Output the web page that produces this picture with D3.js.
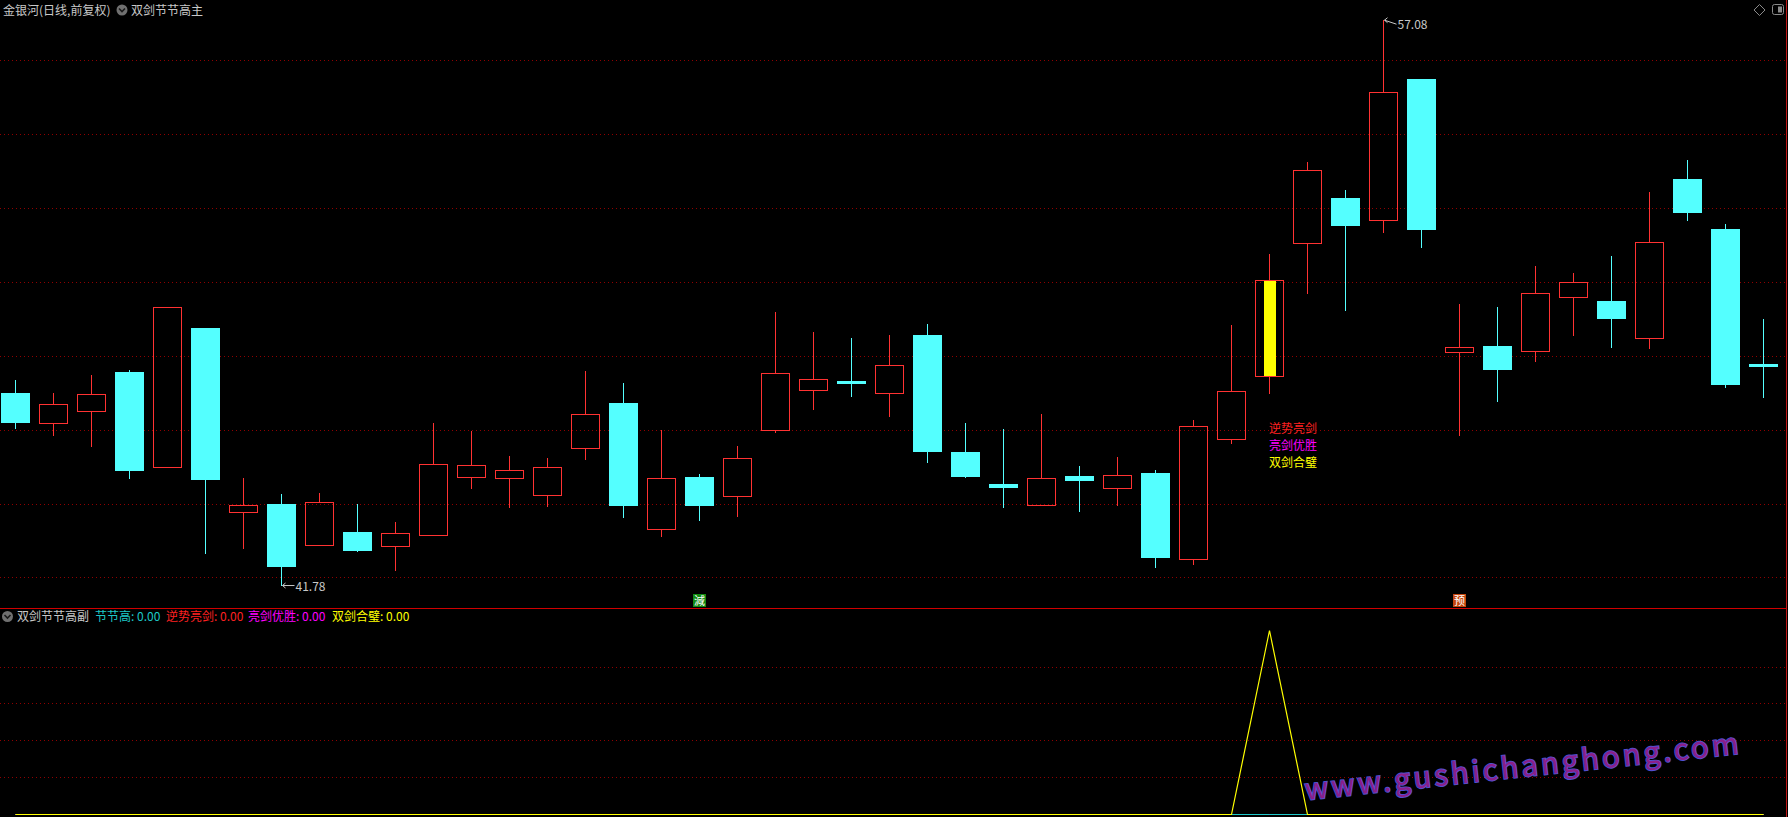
<!DOCTYPE html>
<html>
<head>
<meta charset="utf-8">
<script src="https://cdn.jsdelivr.net/npm/d3@7"></script>
<style>
  html, body { margin: 0; padding: 0; background: #000; }
  svg { display: block; }
  text { font-family: "Noto Sans CJK SC", "Noto Sans", sans-serif; }
</style>
</head>
<body>
<div id="container"></div>
<script>
const width = 1788;
const height = 817;

// daily bars, oldest first
const opens = [46.98, 46.19, 46.51, 47.55, 45.00, 48.76, 43.78, 43.98, 42.89, 43.22,
  42.86, 43.16, 44.73, 44.70, 44.24, 45.51, 46.71, 43.32, 44.71, 44.19,
  46.00, 47.08, 47.31, 47.00, 48.55, 45.39, 44.52, 43.97, 44.74, 44.42,
  44.82, 42.51, 45.75, 47.46, 51.05, 52.28, 51.66, 55.49, 48.11, 48.27,
  48.14, 49.60, 49.49, 48.48, 52.79, 51.44, 47.77];
const highs = [47.33, 46.98, 47.49, 47.60, 49.32, 48.76, 44.68, 44.25, 44.28, 43.98,
  43.49, 46.17, 45.95, 45.28, 45.22, 47.58, 47.25, 45.99, 44.79, 45.55,
  49.17, 48.63, 48.47, 48.55, 48.87, 46.19, 46.01, 46.41, 45.01, 45.27,
  44.90, 46.25, 48.82, 50.74, 53.25, 52.49, 57.08, 55.49, 49.41, 49.33,
  50.44, 50.23, 50.71, 52.44, 53.30, 51.57, 48.98];
const lows = [46.02, 45.83, 45.53, 44.66, 45.00, 42.64, 42.77, 41.78, 42.89, 42.69,
  42.18, 43.12, 44.39, 43.88, 43.91, 45.18, 43.61, 43.10, 43.53, 43.64,
  45.91, 46.53, 46.88, 46.34, 45.10, 44.69, 43.88, 43.97, 43.77, 43.94,
  42.26, 42.33, 45.62, 46.96, 49.68, 49.20, 51.31, 50.91, 45.83, 46.74,
  47.83, 48.53, 48.21, 48.18, 51.64, 47.12, 46.86];
const closes = [46.18, 46.70, 46.97, 44.88, 49.32, 44.64, 43.95, 42.29, 44.03, 42.72,
  43.19, 45.08, 45.03, 44.92, 45.00, 46.43, 43.94, 44.68, 43.94, 45.24,
  47.54, 47.38, 47.24, 47.76, 45.40, 44.72, 44.43, 44.69, 44.61, 44.78,
  42.53, 46.11, 47.05, 50.05, 53.03, 51.50, 55.14, 51.40, 48.24, 47.61,
  49.70, 50.00, 48.99, 51.09, 51.85, 47.21, 47.70];

const priceTicks = [42, 44, 46, 48, 50, 52, 54, 56];

// signal bar (双剑合璧) and its labels
const signalBars = [33];
const signalLabels = ["逆势亮剑", "亮剑优胜", "双剑合璧"];

// small boxes under the bars
const markerBars = [18, 38];
const markerTexts = ["減", "预"];

// lower panel series
const jieJieGao = [0,0,0,0,0,0,0,0,0,0,0,0,0,0,0,0,0,0,0,0,0,0,0,0,0,0,0,0,0,0,0,0,0,0,0,0,0,0,0,0,0,0,0,0,0,0,0];
const niShi = [0,0,0,0,0,0,0,0,0,0,0,0,0,0,0,0,0,0,0,0,0,0,0,0,0,0,0,0,0,0,0,0,0,0,0,0,0,0,0,0,0,0,0,0,0,0,0];
const youSheng = [0,0,0,0,0,0,0,0,0,0,0,0,0,0,0,0,0,0,0,0,0,0,0,0,0,0,0,0,0,0,0,0,0,0,0,0,0,0,0,0,0,0,0,0,0,0,0];
const heBi = [0,0,0,0,0,0,0,0,0,0,0,0,0,0,0,0,0,0,0,0,0,0,0,0,0,0,0,0,0,0,0,0,0,1,0,0,0,0,0,0,0,0,0,0,0,0,0];
const lowTicks = [0.2, 0.4, 0.6, 0.8];

const UP = "#ff3232";
const DOWN = "#54ffff";
const GRID = "#900000";
const TEXT = "#c8c8c8";

const svg = d3
  .select("#container")
  .append("svg")
  .attr("width", width)
  .attr("height", height)
  .style("background", "#000");

const bars = d3.range(opens.length);

const xScale = d3
  .scaleBand()
  .domain(bars)
  .range([-3.7, 1782.3])
  .paddingInner(9 / 38)
  .paddingOuter(4.5 / 38);
const bw = xScale.bandwidth();
const cx = (i) => Math.floor(xScale(i) + bw / 2) + 0.5;

const yScale = d3.scaleLinear().domain([42, 56]).range([577.4, 60.1]);
const yLow = d3.scaleLinear().domain([0, 1]).range([813.7, 630]);

// grid lines
const grid = svg.append("g").attr("shape-rendering", "crispEdges");
grid
  .selectAll("line.p")
  .data(priceTicks)
  .enter()
  .append("line")
  .attr("class", "p")
  .attr("x1", 0)
  .attr("x2", 1786)
  .attr("y1", (d) => Math.round(yScale(d)) + 0.5)
  .attr("y2", (d) => Math.round(yScale(d)) + 0.5)
  .attr("stroke", GRID)
  .attr("stroke-dasharray", "1,3");

grid
  .selectAll("line.l")
  .data(lowTicks)
  .enter()
  .append("line")
  .attr("class", "l")
  .attr("x1", 0)
  .attr("x2", 1786)
  .attr("y1", (d) => Math.round(yLow(d)) + 0.5)
  .attr("y2", (d) => Math.round(yLow(d)) + 0.5)
  .attr("stroke", GRID)
  .attr("stroke-dasharray", "1,3");

// candles
const candles = bars.map((i) => ({
  i,
  o: opens[i],
  h: highs[i],
  l: lows[i],
  c: closes[i],
}));
const py = (v) => Math.round(yScale(v));

const g = svg.append("g").attr("shape-rendering", "crispEdges");

candles.forEach((d) => {
  const x = cx(d.i);
  if (d.c > d.o) {
    if (py(d.h) < py(d.c))
      g.append("line").attr("x1", x).attr("x2", x)
        .attr("y1", py(d.h)).attr("y2", py(d.c)).attr("stroke", UP);
    if (py(d.l) > py(d.o))
      g.append("line").attr("x1", x).attr("x2", x)
        .attr("y1", py(d.o)).attr("y2", py(d.l)).attr("stroke", UP);
    if (signalBars.includes(d.i)) {
      g.append("rect")
        .attr("x", x - 6)
        .attr("y", py(d.c))
        .attr("width", 12)
        .attr("height", py(d.o) - py(d.c))
        .attr("fill", "#ffff00");
    }
    g.append("rect")
      .attr("x", Math.round(xScale(d.i)) + 0.5)
      .attr("y", py(d.c) + 0.5)
      .attr("width", Math.round(bw) - 1)
      .attr("height", py(d.o) - py(d.c))
      .attr("fill", "none")
      .attr("stroke", UP);
  } else {
    g.append("line").attr("x1", x).attr("x2", x)
      .attr("y1", py(d.h)).attr("y2", py(d.l)).attr("stroke", DOWN);
    g.append("rect")
      .attr("x", Math.round(xScale(d.i)))
      .attr("y", py(d.o))
      .attr("width", Math.round(bw))
      .attr("height", Math.max(py(d.c) - py(d.o), 3))
      .attr("fill", DOWN);
  }
});

// max / min labels
const hiIdx = d3.maxIndex(highs);
const loIdx = d3.minIndex(lows);
[
  { i: hiIdx, v: highs[hiIdx], dy: 4 },
  { i: loIdx, v: lows[loIdx], dy: 0 },
].forEach((m) => {
  const x = cx(m.i);
  const y = yScale(m.v);
  svg.append("path")
    .attr("d", `M${x + 1},${y} L${x + 13},${y + m.dy} M${x + 1},${y} l3,-2.5 M${x + 1},${y} l3,2.5`)
    .attr("stroke", TEXT)
    .attr("fill", "none");
  svg.append("text")
    .attr("x", x + 14)
    .attr("y", y + m.dy + 5)
    .attr("fill", TEXT)
    .attr("font-size", 12)
    .text(m.v.toFixed(2));
});

// signal labels
const labelColors = ["#ff2020", "#ff00ff", "#ffff00"];
signalBars.forEach((i) => {
  svg.append("g")
    .selectAll("text")
    .data(signalLabels)
    .enter()
    .append("text")
    .attr("x", cx(i) - 0.5)
    .attr("y", (d, k) => yScale(lows[i]) + 38.5 + k * 17.3)
    .attr("fill", (d, k) => labelColors[k])
    .attr("font-size", 12)
    .text((d) => d);
});

// marker boxes
const markerColors = { "減": "#128a12", "预": "#c4460e" };
markerBars.forEach((i, k) => {
  const x = cx(i);
  svg.append("rect")
    .attr("x", x - 6.5)
    .attr("y", 594)
    .attr("width", 13)
    .attr("height", 13)
    .attr("fill", markerColors[markerTexts[k]]);
  svg.append("text")
    .attr("x", x)
    .attr("y", 605)
    .attr("text-anchor", "middle")
    .attr("fill", "#ffffff")
    .attr("font-size", 11)
    .text(markerTexts[k]);
});

// panel divider and right border
svg.append("line")
  .attr("x1", 0).attr("x2", 1787)
  .attr("y1", 608.5).attr("y2", 608.5)
  .attr("stroke", "#d00000")
  .attr("stroke-width", 1);
svg.append("line")
  .attr("x1", 1786.5).attr("x2", 1786.5)
  .attr("y1", 0).attr("y2", height)
  .attr("stroke", "#c01818");

// lower panel lines
const line = d3.line()
  .x((d, i) => cx(i))
  .y((d) => Math.round(yLow(d)) + 0.5);

[
  { data: niShi, color: "#ff2020", w: 1 },
  { data: youSheng, color: "#ff00ff", w: 1 },
  { data: jieJieGao, color: "#1ec8c8", w: 1 },
  { data: heBi, color: "#ffff00", w: 1.2 },
].forEach((s) => {
  svg.append("path")
    .datum(s.data)
    .attr("d", line)
    .attr("fill", "none")
    .attr("stroke", s.color)
    .attr("stroke-width", s.w);
});

// headers
function drawIcon(x, y) {
  svg.append("circle").attr("cx", x).attr("cy", y).attr("r", 5.5).attr("fill", "#707070");
  svg.append("path")
    .attr("d", `M${x - 3},${y - 1.5} L${x},${y + 1.5} L${x + 3},${y - 1.5}`)
    .attr("stroke", "#1a1a1a")
    .attr("stroke-width", 1.6)
    .attr("fill", "none");
}

svg.append("text").attr("x", 3).attr("y", 14.5).attr("fill", TEXT)
  .attr("font-size", 12).text("金银河(日线,前复权)");
drawIcon(122, 10);
svg.append("text").attr("x", 131).attr("y", 14.5).attr("fill", TEXT)
  .attr("font-size", 12).text("双剑节节高主");

drawIcon(7.5, 616.5);
const lowHeader = [
  { x: 17, t: "双剑节节高副", c: TEXT },
  { x: 95, t: "节节高: " + jieJieGao[jieJieGao.length - 1].toFixed(2), c: "#1ec8c8" },
  { x: 166, t: "逆势亮剑: " + niShi[niShi.length - 1].toFixed(2), c: "#ff2020" },
  { x: 248, t: "亮剑优胜: " + youSheng[youSheng.length - 1].toFixed(2), c: "#ff00ff" },
  { x: 332, t: "双剑合璧: " + heBi[heBi.length - 1].toFixed(2), c: "#ffff00" },
];
svg.append("g")
  .selectAll("text")
  .data(lowHeader)
  .enter()
  .append("text")
  .attr("x", (d) => d.x)
  .attr("y", 621)
  .attr("fill", (d) => d.c)
  .attr("font-size", 12)
  .text((d) => d.t);

// top right icons
svg.append("path")
  .attr("d", "M1759.5,4.5 L1765,10 L1759.5,15.5 L1754,10 Z")
  .attr("stroke", "#8a8a8a").attr("fill", "none");
svg.append("rect")
  .attr("x", 1772.5).attr("y", 4.5).attr("width", 11).attr("height", 10).attr("rx", 2)
  .attr("stroke", "#8a8a8a").attr("fill", "none");
svg.append("rect")
  .attr("x", 1778).attr("y", 6.5).attr("width", 4).attr("height", 6)
  .attr("fill", "#8a8a8a");

// watermark
svg.append("text")
  .attr("transform", "translate(1306,800) rotate(-6.1)")
  .attr("textLength", 436)
  .attr("lengthAdjust", "spacing")
  .attr("font-family", "'Open Sans', 'Noto Sans', sans-serif")
  .attr("font-size", 29)
  .attr("font-weight", 400)
  .attr("fill", "#8a1f8a")
  .attr("stroke", "#5050d0")
  .attr("stroke-width", 2)
  .attr("paint-order", "stroke")
  .text("www.gushichanghong.com");
</script>
</body>
</html>
